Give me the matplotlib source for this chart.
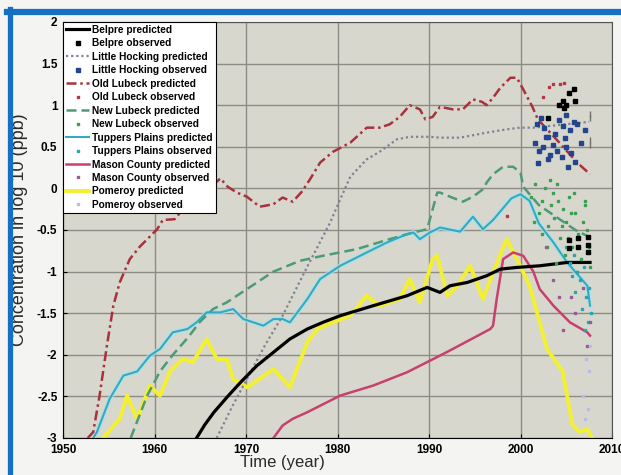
import matplotlib
matplotlib.use("Agg")
import matplotlib.pyplot as plt
from matplotlib.lines import Line2D

plt.rcParams['font.family'] = ['Liberation Sans', 'DejaVu Sans']
plt.rcParams['axes.unicode_minus'] = False

# Predicted curves (year, log10 ppb)
belpre_yr = [1964.6, 1965.5, 1966.5, 1968.0, 1969.5, 1971.2, 1973.0, 1974.8, 1976.7, 1978.4,
             1980.3, 1983.9, 1987.6, 1989.8, 1991.2, 1992.3, 1994.2, 1996.3, 1997.8, 1999.6,
             2002.1, 2005.1, 2007.6]
belpre_val = [-3.0, -2.84, -2.69, -2.5, -2.32, -2.13, -1.97, -1.81, -1.69, -1.61,
              -1.53, -1.41, -1.29, -1.19, -1.25, -1.17, -1.13, -1.05, -0.97, -0.95,
              -0.93, -0.89, -0.89]

hocking_yr = [1966.8, 1968.5, 1970.1, 1972.0, 1974.0, 1976.7, 1979.2, 1980.3, 1981.4, 1983.2,
              1984.6, 1986.5, 1987.9, 1990.1, 1991.2, 1993.4, 1996.3, 1998.5, 1999.9, 2001.4,
              2004.0, 2007.5]
hocking_val = [-3.0, -2.62, -2.29, -1.9, -1.53, -0.94, -0.41, -0.13, 0.14, 0.35,
               0.44, 0.59, 0.62, 0.62, 0.61, 0.61, 0.67, 0.71, 0.73, 0.73,
               0.76, 0.8]

old_lub_yr = [1952.7, 1953.3, 1954.0, 1954.8, 1955.5, 1956.2, 1957.3, 1958.4, 1960.3, 1960.9,
              1962.2, 1963.5, 1965.0, 1966.5, 1967.2, 1968.0, 1969.0, 1970.1, 1971.5, 1973.0,
              1974.0, 1975.1, 1976.1, 1977.0, 1978.1, 1979.5, 1981.4, 1983.2, 1984.6, 1985.7,
              1986.8, 1987.9, 1989.0, 1989.6, 1990.4, 1991.2, 1992.6, 1993.7, 1994.8, 1995.8,
              1996.3, 1997.0, 1997.8, 1998.9, 1999.6, 2000.3, 2001.3, 2001.9, 2004.0, 2006.2,
              2007.6]
old_lub_val = [-3.0, -2.93, -2.49, -1.89, -1.41, -1.13, -0.85, -0.7, -0.49, -0.38,
               -0.37, -0.2, -0.05, 0.05, 0.12, 0.02, -0.05, -0.1, -0.22, -0.19,
               -0.11, -0.16, -0.04, 0.11, 0.31, 0.44, 0.55, 0.73, 0.73, 0.77,
               0.86, 1.0, 0.95, 0.83, 0.86, 0.98, 0.95, 0.95, 1.07, 1.04,
               1.0, 1.09, 1.21, 1.33, 1.33, 1.19, 0.98, 0.83, 0.58, 0.31,
               0.17]

new_lub_yr = [1957.4, 1959.2, 1960.6, 1962.0, 1963.6, 1965.0, 1966.4, 1967.9, 1970.1, 1973.0,
              1975.9, 1978.4, 1982.1, 1985.7, 1988.3, 1989.8, 1990.4, 1990.9, 1991.2, 1992.3,
              1993.7, 1994.8, 1995.9, 1996.3, 1997.0, 1998.1, 1999.2, 2000.0, 2000.3, 2002.0,
              2004.0, 2006.0, 2007.8]
new_lub_val = [-3.0, -2.49, -2.2, -2.0, -1.8, -1.6, -1.45, -1.37, -1.21, -1.0,
               -0.87, -0.81, -0.73, -0.61, -0.53, -0.49, -0.25, -0.05, -0.05, -0.1,
               -0.16, -0.1, -0.01, 0.07, 0.17, 0.26, 0.26, 0.19, 0.02, -0.2,
               -0.35, -0.5, -0.6]

tuppers_yr = [1953.3, 1953.7, 1955.1, 1956.6, 1958.1, 1959.5, 1960.6, 1962.0, 1963.6, 1964.6,
              1965.7, 1967.2, 1968.6, 1969.7, 1970.8, 1971.9, 1973.0, 1974.0, 1974.8, 1976.7,
              1978.1, 1980.3, 1983.2, 1985.4, 1987.6, 1988.3, 1989.0, 1990.1, 1991.2, 1993.4,
              1994.8, 1995.9, 1997.0, 1998.0, 1999.0, 2000.0, 2001.0, 2002.0, 2003.6, 2005.1,
              2007.3, 2007.6]
tuppers_val = [-3.0, -2.93, -2.53, -2.25, -2.2, -2.01, -1.93, -1.73, -1.69, -1.61,
               -1.49, -1.49, -1.45, -1.57, -1.61, -1.65, -1.57, -1.57, -1.61, -1.33,
               -1.09, -0.93, -0.77, -0.65, -0.55, -0.53, -0.61, -0.53, -0.47, -0.52,
               -0.34, -0.49, -0.38, -0.25, -0.12, -0.07, -0.15, -0.42, -0.65, -0.89,
               -1.17, -1.41]

mason_yr = [1973.0, 1974.0, 1975.1, 1976.7, 1980.3, 1983.9, 1987.6, 1991.2, 1992.6, 1996.7,
            1997.0, 1997.4, 1998.1, 1999.2, 2000.3, 2001.4, 2002.1, 2003.6, 2005.4, 2007.3,
            2007.6]
mason_val = [-3.0, -2.85, -2.77, -2.69, -2.49, -2.37, -2.21, -2.01, -1.93, -1.69,
             -1.65, -1.33, -0.85, -0.77, -0.81, -1.0, -1.21, -1.41, -1.61, -1.73,
             -1.77]

pomeroy_yr = [1954.4, 1956.2, 1957.0, 1958.1, 1959.5, 1960.6, 1961.7, 1963.1, 1964.2, 1965.7,
              1966.8, 1967.9, 1968.6, 1970.1, 1971.5, 1973.0, 1974.8, 1976.7, 1977.8, 1979.5,
              1981.4, 1983.2, 1984.6, 1986.8, 1987.9, 1989.0, 1990.4, 1990.9, 1992.0, 1993.1,
              1994.5, 1995.9, 1997.0, 1998.5, 1999.6, 2001.0, 2002.9, 2004.6, 2005.7, 2006.5,
              2007.3, 2007.8]
pomeroy_val = [-3.0, -2.77, -2.49, -2.77, -2.37, -2.49, -2.2, -2.05, -2.09, -1.81,
               -2.05, -2.05, -2.29, -2.39, -2.29, -2.17, -2.39, -1.85, -1.69, -1.61,
               -1.53, -1.29, -1.41, -1.33, -1.09, -1.37, -0.85, -0.81, -1.29, -1.17,
               -0.93, -1.33, -1.01, -0.61, -0.85, -1.17, -1.93, -2.2, -2.85, -2.93,
               -2.89, -3.0]

# Observed samples
belpre_obs_yr = [2005.3, 2005.3, 2006.3, 2006.3, 2007.4, 2007.4, 2007.4, 2003.0, 2004.2,
                 2004.6, 2005.0, 2005.3, 2005.8, 2006.0, 2004.8]
belpre_obs_val = [-0.62, -0.72, -0.6, -0.7, -0.58, -0.68, -0.76, 0.85, 1.0,
                  1.05, 1.0, 1.15, 1.2, 1.05, 0.97]

hocking_obs_yr = [2001.8, 2002.2, 2002.6, 2003.0, 2001.6, 2002.0, 2002.5, 2003.2, 2003.6, 2004.2,
                  2004.6, 2005.0, 2005.4, 2005.8, 2006.2, 2004.0, 2004.5, 2005.0, 2005.5, 2001.9,
                  2003.0, 2005.2, 2006.0, 2002.8, 2003.8, 2004.9, 2006.6, 2007.0]
hocking_obs_val = [0.78, 0.85, 0.72, 0.62, 0.55, 0.45, 0.5, 0.4, 0.52, 0.82,
                   0.75, 0.88, 0.7, 0.8, 0.78, 0.45, 0.38, 0.5, 0.42, 0.3,
                   0.35, 0.26, 0.32, 0.62, 0.65, 0.6, 0.55, 0.7]
hocking_obs2_yr = [2007.6, 2007.6, 2007.6, 2007.6]
hocking_obs2_val = [0.85, 0.9, 0.52, 0.58]

old_lub_obs_yr = [2003.1, 2003.6, 2004.3, 2004.8, 2002.5, 1998.5]
old_lub_obs_val = [1.22, 1.25, 1.25, 1.27, 1.1, -0.33]

new_lub_obs_yr = [2001.2, 2001.6, 2002.0, 2002.3, 2002.7, 2003.0, 2003.3, 2003.7, 2004.0, 2004.3,
                  2004.6, 2005.0, 2005.3, 2005.6, 2006.0, 2006.3, 2006.6, 2007.0, 2007.3, 2007.6,
                  2001.5, 2002.4, 2003.2, 2004.1, 2004.9, 2005.8, 2006.8, 2007.5, 2002.9, 2003.9,
                  2005.2, 2006.2, 2007.1, 2003.5, 2004.5, 2005.5]
new_lub_obs_val = [-0.1, 0.05, -0.3, -0.15, 0.0, -0.45, -0.2, -0.35, 0.05, -0.6,
                   -0.25, -0.4, -0.1, -0.7, -0.3, -0.55, -0.85, -0.2, -0.5, -0.95,
                   -0.4, -0.55, 0.1, -0.15, -0.8, -0.05, -0.4, -0.7, -0.7, -0.9,
                   -0.6, -1.0, -0.15, -0.05, -0.45, -0.3]

tuppers_obs_yr = [2005.0, 2005.4, 2005.8, 2006.2, 2006.5, 2006.9, 2007.2, 2007.5, 2007.7, 2006.0,
                  2006.7, 2007.4, 2005.6, 2007.0]
tuppers_obs_val = [-0.7, -0.9, -0.8, -1.0, -1.1, -0.95, -1.3, -1.2, -1.5, -1.25,
                   -1.45, -1.6, -1.05, -1.7]

mason_obs_yr = [2003.5, 2004.2, 2004.6, 2005.5, 2006.0, 2006.8, 2007.3, 2002.8, 2007.6]
mason_obs_val = [-1.1, -1.3, -1.7, -1.3, -1.5, -1.2, -1.9, -0.7, -1.6]

pomeroy_obs_yr = [2007.2, 2007.5, 2007.0, 2007.6, 2006.8, 2007.4]
pomeroy_obs_val = [-2.05, -2.2, -2.77, -1.9, -2.5, -2.65]

fig = plt.figure(figsize=(6.21, 4.75), dpi=100, facecolor='#f4f5f2')
ax = fig.add_axes([63 / 621, 37 / 475, 549 / 621, 416 / 475])
ax.set_facecolor('#d8d7ce')

# blue slide border from the scan
fig.add_artist(Line2D([7 / 621, 1.0], [1 - 12 / 475, 1 - 12 / 475], color='#1570c4', lw=4.5,
                      transform=fig.transFigure))
fig.add_artist(Line2D([10 / 621, 10 / 621], [0.0, 1 - 9 / 475], color='#1570c4', lw=3.8,
                      transform=fig.transFigure))

h_bel, = ax.plot(belpre_yr, belpre_val, color='black', lw=2.3, label='Belpre predicted', zorder=4)
h_bel_o, = ax.plot(belpre_obs_yr, belpre_obs_val, ls='none', marker='s', ms=2.2, color='black',
                   label='Belpre observed', zorder=6)
h_hoc, = ax.plot(hocking_yr, hocking_val, color='#7c8393', lw=1.6, ls=(0, (1, 1.3)),
                 label='Little Hocking predicted', zorder=3)
h_hoc_o, = ax.plot(hocking_obs_yr, hocking_obs_val, ls='none', marker='s', ms=2.2, color='#22458e',
                   label='Little Hocking observed', zorder=5)
ax.plot(hocking_obs2_yr, hocking_obs2_val, ls='none', marker='|', ms=5, color='#707070', zorder=5)
h_old, = ax.plot(old_lub_yr, old_lub_val, color='#a8323c', lw=1.8, ls=(0, (4, 1.5, 1, 1.5)),
                 label='Old Lubeck predicted', zorder=3)
h_old_o, = ax.plot(old_lub_obs_yr, old_lub_obs_val, ls='none', marker='s', ms=2.0, color='#b03848',
                   label='Old Lubeck observed', zorder=5)
h_new, = ax.plot(new_lub_yr, new_lub_val, color='#4d9a78', lw=1.8, ls=(0, (4, 2)),
                 label='New Lubeck predicted', zorder=3)
h_new_o, = ax.plot(new_lub_obs_yr, new_lub_obs_val, ls='none', marker='s', ms=2.0, color='#3aa050',
                   label='New Lubeck observed', zorder=5)
ax.plot(tuppers_yr, tuppers_val, color='#a6e4ec', lw=3.6, alpha=0.7, zorder=2.9)
h_tup, = ax.plot(tuppers_yr, tuppers_val, color='#35a9c0', lw=1.5, label='Tuppers Plains predicted',
                 zorder=3)
h_tup_o, = ax.plot(tuppers_obs_yr, tuppers_obs_val, ls='none', marker='s', ms=2.0, color='#28a6b0',
                   label='Tuppers Plains observed', zorder=5)
h_mas, = ax.plot(mason_yr, mason_val, color='#c8406e', lw=1.8, label='Mason County predicted',
                 zorder=3)
h_mas_o, = ax.plot(mason_obs_yr, mason_obs_val, ls='none', marker='s', ms=2.0, color='#9a5a9a',
                   label='Mason County observed', zorder=5)
h_pom, = ax.plot(pomeroy_yr, pomeroy_val, color='#f2f030', lw=2.8, label='Pomeroy predicted',
                 zorder=2)
h_pom_o, = ax.plot(pomeroy_obs_yr, pomeroy_obs_val, ls='none', marker='s', ms=2.0, color='#b8bde8',
                   label='Pomeroy observed', zorder=5)

ax.set_xlim(1950, 2010)
ax.set_ylim(-3, 2)
ax.set_xticks(range(1950, 2011, 10))
ax.set_yticks([2, 1.5, 1, 0.5, 0, -0.5, -1, -1.5, -2, -2.5, -3])
ax.set_yticklabels(['2', '1.5', '1', '0.5', '0', '-0.5', '-1', '-1.5', '-2', '-2.5', '-3'])
ax.grid(True, color='#8c8b86', lw=1.0)
ax.set_axisbelow(True)
ax.tick_params(direction='in', length=3, labelsize=8.5, pad=4, colors='black')
for lab in ax.get_xticklabels() + ax.get_yticklabels():
    lab.set_fontweight('bold')
for s in ax.spines.values():
    s.set_color('#555555')
ax.spines['left'].set_color('black')
ax.spines['bottom'].set_color('black')

ax.set_xlabel('Time (year)', fontsize=12, color='#2a2a2a')
ax.set_ylabel('Concentration in log 10 (ppb)', fontsize=13, color='#2a2a2a')
ax.xaxis.set_label_coords(0.40, -0.041)
ax.yaxis.set_label_coords(-0.064, 0.5)

handles = [h_bel, h_bel_o, h_hoc, h_hoc_o, h_old, h_old_o, h_new, h_new_o,
           h_tup, h_tup_o, h_mas, h_mas_o, h_pom, h_pom_o]
leg = ax.legend(handles=handles, loc='upper left', bbox_to_anchor=(0, 1), borderaxespad=0,
                prop={'size': 7.3, 'weight': 'bold'}, frameon=True, fancybox=False,
                edgecolor='black', framealpha=1, handlelength=2.3, handletextpad=0.3,
                labelspacing=0.34, borderpad=0.3)
leg.get_frame().set_linewidth(0.8)
leg.set_zorder(10)

fig.savefig('out.png', dpi=100, facecolor=fig.get_facecolor())
